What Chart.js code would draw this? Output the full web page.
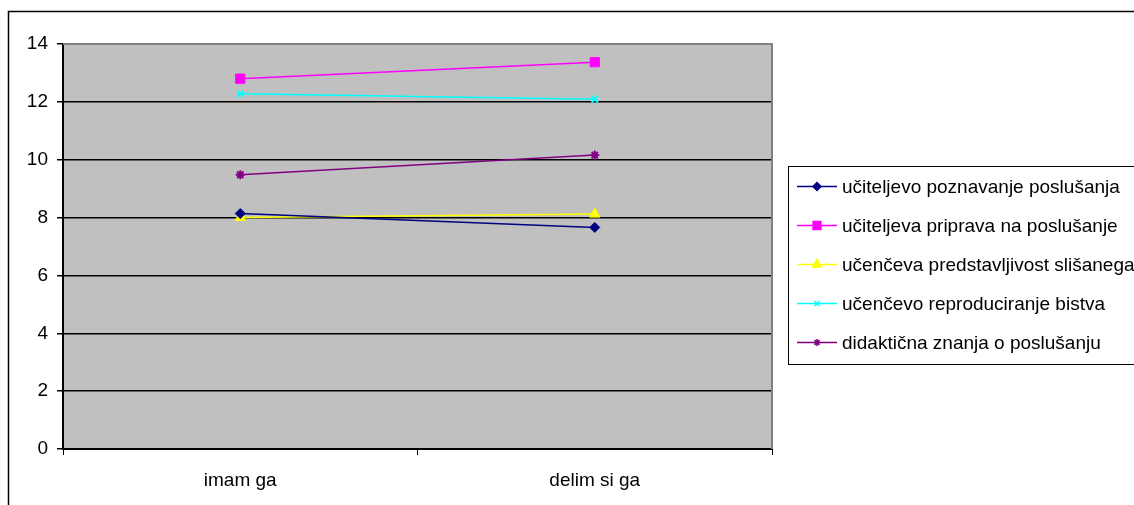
<!DOCTYPE html>
<html>
<head>
<meta charset="utf-8">
<script src="https://cdn.jsdelivr.net/npm/chart.js@4/dist/chart.umd.min.js"></script>
<style>
  body { margin: 0; background: #fff; }
  canvas { display: block; }
</style>
</head>
<body>
<canvas id="chart" width="1134" height="505"></canvas>
<script>
const categories = ["imam ga", "delim si ga"];
const seriesNames = [
  "učiteljevo poznavanje poslušanja",
  "učiteljeva priprava na poslušanje",
  "učenčeva predstavljivost slišanega",
  "učenčevo reproduciranje bistva",
  "didaktična znanja o poslušanju"
];
const poznavanje = [8.14, 7.66];
const priprava = [12.8, 13.37];
const predstavljivost = [8.0, 8.12];
const reproduciranje = [12.28, 12.09];
const didakticna = [9.48, 10.16];
const yTicks = [0, 2, 4, 6, 8, 10, 12, 14];

const colors = ["#000080", "#ff00ff", "#ffff00", "#00ffff", "#800080"];
const styles = ["rectRot", "rect", "triangle", "crossRot", "star"];
const radii = [5, 6.5, 6, 4.5, 4.5];
const values = [poznavanje, priprava, predstavljivost, reproduciranje, didakticna];

const FONT = "'Liberation Sans', Arial, sans-serif";
const FS = 19;

const datasets = values.map((v, i) => ({
  label: seriesNames[i],
  data: v,
  borderColor: colors[i],
  backgroundColor: colors[i],
  borderWidth: 1.5,
  pointStyle: styles[i],
  pointRadius: radii[i],
  pointBorderWidth: styles[i] === "crossRot" || styles[i] === "star" ? 2 : 1,
  tension: 0
}));

// gray plot area, border, outer frame and legend
const excelLook = {
  id: "excelLook",
  beforeDraw(chart) {
    const { ctx, chartArea: a } = chart;
    ctx.save();
    ctx.fillStyle = "#c0c0c0";
    ctx.fillRect(a.left, a.top, a.right - a.left, a.bottom - a.top);
    ctx.restore();
  },
  afterDraw(chart) {
    const { ctx, chartArea: a } = chart;
    ctx.save();
    ctx.strokeStyle = "#808080";
    ctx.lineWidth = 2;
    ctx.beginPath();
    ctx.moveTo(a.left, a.top);
    ctx.lineTo(a.right, a.top);
    ctx.lineTo(a.right, a.bottom);
    ctx.stroke();

    // outer frame (left and top only visible)
    ctx.strokeStyle = "#000";
    ctx.lineWidth = 1.5;
    ctx.beginPath();
    ctx.moveTo(8.5, 520);
    ctx.lineTo(8.5, 11.5);
    ctx.lineTo(1140, 11.5);
    ctx.stroke();

    // legend box
    ctx.lineWidth = 1;
    ctx.strokeRect(788.5, 166.5, 400, 198);
    ctx.font = FS + "px " + FONT;
    ctx.textBaseline = "middle";
    ctx.textAlign = "left";
    chart.data.datasets.forEach((ds, i) => {
      const y = 186.5 + i * 39;
      ctx.strokeStyle = ds.borderColor;
      ctx.fillStyle = ds.backgroundColor;
      ctx.lineWidth = 1.5;
      ctx.beginPath();
      ctx.moveTo(797, y);
      ctx.lineTo(837, y);
      ctx.stroke();
      Chart.helpers.drawPoint(ctx, {
        pointStyle: ds.pointStyle,
        radius: ds.pointRadius - 1,
        borderWidth: ds.pointBorderWidth,
        rotation: 0
      }, 817, y);
      ctx.fillStyle = "#000";
      ctx.fillText(ds.label, 842, y + 1);
    });
    ctx.restore();
  }
};

new Chart(document.getElementById("chart"), {
  type: "line",
  data: { labels: categories, datasets: datasets },
  plugins: [excelLook],
  options: {
    responsive: false,
    animation: false,
    layout: { padding: { left: 0, top: 44, right: 362, bottom: 0 } },
    plugins: { legend: { display: false }, tooltip: { enabled: false } },
    scales: {
      x: {
        offset: true,
        grid: {
          offset: true,
          drawOnChartArea: false,
          drawTicks: true,
          tickLength: 6,
          tickColor: "#000",
          color: "#000"
        },
        border: { color: "#000", width: 2 },
        ticks: { color: "#000", font: { family: FONT, size: FS }, padding: 14 },
        afterFit(scale) { scale.height = 56; }
      },
      y: {
        min: 0,
        max: 14,
        afterBuildTicks(scale) { scale.ticks = yTicks.map(v => ({ value: v })); },
        grid: {
          color: c => (c.tick && c.tick.value === 14 ? "rgba(0,0,0,0)" : "#000"),
          lineWidth: 1.5,
          tickLength: 6,
          tickColor: "#000"
        },
        border: { color: "#000", width: 2 },
        ticks: { color: "#000", font: { family: FONT, size: FS }, padding: 9 },
        afterFit(scale) { scale.width = 63; }
      }
    }
  }
});
</script>
</body>
</html>
